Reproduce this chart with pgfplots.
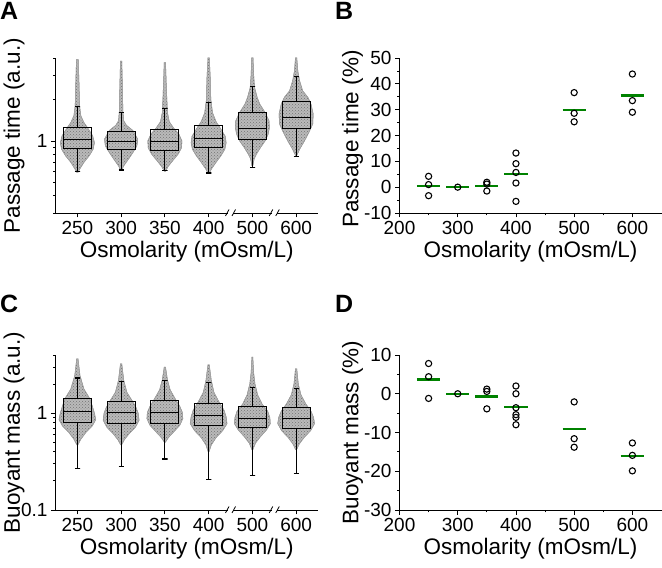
\documentclass[border=0pt]{standalone}
\usepackage{fontspec}
\setmainfont{Liberation Sans}
\usepackage{pgfplots}
\pgfplotsset{compat=1.18}
\usetikzlibrary{patterns,calc}
\definecolor{mgreen}{RGB}{0,130,0}

\pgfplotsset{
  base/.style={
    scale only axis, axis lines*=left, tick align=outside,
    xtick pos=left, ytick pos=left,
    axis line style={line width=0.8pt, black},
    every tick/.style={black, line width=0.8pt},
    major tick length=4.5pt, minor tick length=2.5pt,
    tick label style={font=\fontsize{19}{22}\selectfont},
    label style={font=\fontsize{22.5}{26}\selectfont},
    /pgf/number format/assume math mode=true,
    xlabel={Osmolarity (mOsm/L)},
    clip=false,
  },
  swarmpanel/.style={
    base, width=262.5pt, height=155pt,
    xmin=-0.5, xmax=5.5, xtick={0,...,5},
    xticklabels={250,300,350,400,500,600},
    ylabel style={at={(axis description cs:-0.158,0.5)}, anchor=center},
  },
  dotpanel/.style={
    base, width=262pt, height=155pt,
    xmin=200, xmax=650, xtick={200,300,...,600}, minor x tick num=1,
    minor y tick num=1,
  },
  swarm/.style={fill=black!27, draw=black!38, line width=0.5pt,
    postaction={pattern=crosshatch dots, pattern color=black!55}},
  bx/.style={black, line width=1pt, line cap=rect, mark=none},
  wk/.style={black, line width=1.2pt, mark=none},
  mn/.style={mgreen, line width=2.2pt, mark=none, unbounded coords=jump},
  pts/.style={only marks, mark=o, mark size=3.1pt, mark options={black, line width=1.1pt}},
}

% "//" break mark on a bottom axis line, fraction #2 along axis #1
\newcommand{\axisbreak}[2]{%
  \coordinate (brk) at ($(#1.south west)!#2!(#1.south east)$);
  \fill[white] ($(brk)+(-2.5pt,-1.5pt)$) rectangle ($(brk)+(2.5pt,1.5pt)$);
  \draw[black, line width=0.8pt] ($(brk)+(-5pt,-3pt)$) -- ($(brk)+(-1.5pt,3.5pt)$);
  \draw[black, line width=0.8pt] ($(brk)+(1.5pt,-3pt)$) -- ($(brk)+(5pt,3.5pt)$);
}

\begin{document}
\begin{tikzpicture}
\path (0pt,0pt) rectangle (662pt,568pt);

%------------- Panel A -------------
\begin{axis}[ymode=log, swarmpanel, name=pA, at={(55.5pt,355pt)}, anchor=south west,
  ymin=0.3, ymax=4, ytick={1}, yticklabels={1},
  minor ytick={0.3,0.4,0.5,0.6,0.7,0.8,0.9,2,3,4},
  ylabel={Passage time (a.u.)}]
\addplot[swarm] coordinates {(0.01,0.59) (0.06,0.63) (0.15,0.70) (0.27,0.78) (0.36,0.87) (0.39,0.97) (0.35,1.09) (0.23,1.25) (0.15,1.36) (0.08,1.52) (0.05,1.8) (0.04,2.5) (0.02,3.9)
  (-0.02,3.9) (-0.04,2.5) (-0.05,1.8) (-0.08,1.52) (-0.15,1.36) (-0.23,1.25) (-0.35,1.09) (-0.39,0.97) (-0.36,0.87) (-0.27,0.78) (-0.15,0.70) (-0.06,0.63) (-0.01,0.59)};
\addplot[swarm] coordinates {(1.01,0.61) (1.06,0.66) (1.17,0.74) (1.27,0.825) (1.36,0.92) (1.38,1.03) (1.27,1.19) (1.12,1.3) (1.06,1.4) (1.04,1.65) (1.03,2.5) (1.015,3.8)
  (0.985,3.8) (0.97,2.5) (0.96,1.65) (0.94,1.4) (0.88,1.3) (0.73,1.19) (0.62,1.03) (0.64,0.92) (0.73,0.825) (0.83,0.74) (0.94,0.66) (0.99,0.61)};
\addplot[swarm] coordinates {(2.01,0.60) (2.07,0.65) (2.18,0.72) (2.30,0.80) (2.38,0.89) (2.39,1.0) (2.32,1.12) (2.20,1.24) (2.10,1.38) (2.06,1.6) (2.04,2.2) (2.015,3.7)
  (1.985,3.7) (1.96,2.2) (1.94,1.6) (1.90,1.38) (1.80,1.24) (1.68,1.12) (1.61,1.0) (1.62,0.89) (1.70,0.80) (1.82,0.72) (1.93,0.65) (1.99,0.60)};
\addplot[swarm] coordinates {(3.01,0.58) (3.07,0.63) (3.17,0.70) (3.28,0.78) (3.37,0.87) (3.40,0.97) (3.38,1.08) (3.28,1.22) (3.17,1.38) (3.09,1.6) (3.05,2.0) (3.04,2.8) (3.015,4.0)
  (2.985,4.0) (2.96,2.8) (2.95,2.0) (2.91,1.6) (2.83,1.38) (2.72,1.22) (2.62,1.08) (2.60,0.97) (2.63,0.87) (2.72,0.78) (2.83,0.70) (2.93,0.63) (2.99,0.58)};
\addplot[swarm] coordinates {(4.01,0.66) (4.04,0.74) (4.09,0.80) (4.19,0.90) (4.29,1.0) (4.36,1.12) (4.39,1.25) (4.38,1.40) (4.29,1.61) (4.17,1.85) (4.11,2.07) (4.05,2.44) (4.03,3.0) (4.015,4.0)
  (3.985,4.0) (3.97,3.0) (3.95,2.44) (3.89,2.07) (3.83,1.85) (3.71,1.61) (3.62,1.40) (3.61,1.25) (3.64,1.12) (3.71,1.0) (3.81,0.90) (3.91,0.80) (3.96,0.74) (3.99,0.66)};
\addplot[swarm] coordinates {(5.01,0.78) (5.08,0.87) (5.19,1.0) (5.29,1.15) (5.38,1.33) (5.39,1.57) (5.34,1.85) (5.27,2.07) (5.15,2.31) (5.08,2.73) (5.04,3.2) (5.015,4.0)
  (4.985,4.0) (4.96,3.2) (4.92,2.73) (4.85,2.31) (4.73,2.07) (4.66,1.85) (4.61,1.57) (4.62,1.33) (4.71,1.15) (4.81,1.0) (4.92,0.87) (4.99,0.78)};
% upper whisker + cap, lower whisker + cap, box + median
\addplot[wk] coordinates {(-0.06,1.79) (0.06,1.79) (0,1.79) (0,1.255)};
\addplot[wk] coordinates {(-0.06,0.60) (0.06,0.60) (0,0.60) (0,0.885)};
\addplot[bx] coordinates {(-0.32,1.03) (-0.32,0.885) (0.32,0.885) (0.32,1.255) (-0.32,1.255) (-0.32,1.03) (0.32,1.03)};
\addplot[wk] coordinates {(0.94,1.61) (1.06,1.61) (1,1.61) (1,1.165)};
\addplot[wk] coordinates {(0.94,0.615) (1.06,0.615) (1,0.615) (1,0.87)};
\addplot[bx] coordinates {(0.68,0.99) (0.68,0.87) (1.32,0.87) (1.32,1.165) (0.68,1.165) (0.68,0.99) (1.32,0.99)};
\addplot[wk] coordinates {(1.94,1.72) (2.06,1.72) (2,1.72) (2,1.205)};
\addplot[wk] coordinates {(1.94,0.61) (2.06,0.61) (2,0.61) (2,0.855)};
\addplot[bx] coordinates {(1.68,0.985) (1.68,0.855) (2.32,0.855) (2.32,1.205) (1.68,1.205) (1.68,0.985) (2.32,0.985)};
\addplot[wk] coordinates {(2.94,1.91) (3.06,1.91) (3,1.91) (3,1.30)};
\addplot[wk] coordinates {(2.94,0.585) (3.06,0.585) (3,0.585) (3,0.90)};
\addplot[bx] coordinates {(2.68,1.05) (2.68,0.90) (3.32,0.90) (3.32,1.30) (2.68,1.30) (2.68,1.05) (3.32,1.05)};
\addplot[wk] coordinates {(3.94,2.48) (4.06,2.48) (4,2.48) (4,1.62)};
\addplot[wk] coordinates {(3.94,0.64) (4.06,0.64) (4,0.64) (4,1.02)};
\addplot[bx] coordinates {(3.68,1.24) (3.68,1.02) (4.32,1.02) (4.32,1.62) (3.68,1.62) (3.68,1.24) (4.32,1.24)};
\addplot[wk] coordinates {(4.94,2.93) (5.06,2.93) (5,2.93) (5,1.92)};
\addplot[wk] coordinates {(4.94,0.775) (5.06,0.775) (5,0.775) (5,1.235)};
\addplot[bx] coordinates {(4.68,1.485) (4.68,1.235) (5.32,1.235) (5.32,1.92) (4.68,1.92) (4.68,1.485) (5.32,1.485)};
\end{axis}
\axisbreak{pA}{0.66667}
\axisbreak{pA}{0.83333}

%------------- Panel B -------------
\begin{axis}[dotpanel, at={(399.5pt,355pt)}, anchor=south west,
  ymin=-10, ymax=50, ytick={-10,0,...,50},
  ylabel={Passage time (\%)},
  ylabel style={at={(axis description cs:-0.179,0.477)}, anchor=center}]
\addplot[mn] coordinates {
  (230,0.6) (270,0.6) (nan,nan) (280,0) (320,0) (nan,nan)
  (330,0.5) (370,0.5) (nan,nan) (380,5.0) (420,5.0) (nan,nan)
  (480,30.0) (520,30.0) (nan,nan) (580,35.5) (620,35.5)};
\addplot[pts] coordinates {
  (250,4.2) (250,1.0) (250,-3.3) (300,0)
  (350,1.9) (350,1.2) (350,-1.5)
  (400,13.2) (400,9.1) (400,5.7) (400,1.6) (400,-5.5)
  (500,36.6) (500,28.6) (500,25.3)
  (600,43.8) (600,33.5) (600,29.0)};
\end{axis}

%------------- Panel C -------------
\begin{axis}[ymode=log, swarmpanel, name=pC, at={(55.5pt,58pt)}, anchor=south west,
  ymin=0.1, ymax=4, ytick={0.1,1}, yticklabels={0.1,1},
  minor ytick={0.2,0.3,0.4,0.5,0.6,0.7,0.8,0.9,2,3,4},
  ylabel={Buoyant mass (a.u.)}]
\addplot[swarm] coordinates {(0.01,0.47) (0.08,0.54) (0.19,0.63) (0.34,0.74) (0.42,0.86) (0.39,1.0) (0.35,1.15) (0.29,1.40) (0.15,1.78) (0.06,2.45) (0.015,3.65)
  (-0.015,3.65) (-0.06,2.45) (-0.15,1.78) (-0.29,1.40) (-0.35,1.15) (-0.39,1.0) (-0.42,0.86) (-0.34,0.74) (-0.19,0.63) (-0.08,0.54) (-0.01,0.47)};
\addplot[swarm] coordinates {(1.01,0.47) (1.07,0.53) (1.19,0.62) (1.33,0.72) (1.41,0.85) (1.39,1.0) (1.34,1.15) (1.25,1.35) (1.13,1.65) (1.06,2.2) (1.015,3.24)
  (0.985,3.24) (0.94,2.2) (0.87,1.65) (0.75,1.35) (0.66,1.15) (0.61,1.0) (0.59,0.85) (0.67,0.72) (0.81,0.62) (0.93,0.53) (0.99,0.47)};
\addplot[swarm] coordinates {(2.01,0.50) (2.08,0.56) (2.20,0.64) (2.34,0.75) (2.41,0.88) (2.40,1.02) (2.34,1.18) (2.24,1.40) (2.12,1.75) (2.06,2.2) (2.015,2.99)
  (1.985,2.99) (1.94,2.2) (1.88,1.75) (1.76,1.40) (1.66,1.18) (1.60,1.02) (1.59,0.88) (1.66,0.75) (1.80,0.64) (1.92,0.56) (1.99,0.50)};
\addplot[swarm] coordinates {(3.01,0.40) (3.06,0.47) (3.17,0.56) (3.32,0.66) (3.42,0.78) (3.40,0.92) (3.35,1.08) (3.24,1.30) (3.12,1.65) (3.06,2.2) (3.015,3.16)
  (2.985,3.16) (2.94,2.2) (2.88,1.65) (2.76,1.30) (2.65,1.08) (2.60,0.92) (2.58,0.78) (2.68,0.66) (2.83,0.56) (2.94,0.47) (2.99,0.40)};
\addplot[swarm] coordinates {(4.01,0.42) (4.07,0.49) (4.18,0.57) (4.32,0.67) (4.41,0.78) (4.40,0.90) (4.35,1.05) (4.22,1.25) (4.12,1.55) (4.06,2.0) (4.03,2.6) (4.01,3.8)
  (3.99,3.8) (3.97,2.6) (3.94,2.0) (3.88,1.55) (3.78,1.25) (3.65,1.05) (3.60,0.90) (3.59,0.78) (3.68,0.67) (3.82,0.57) (3.93,0.49) (3.99,0.42)};
\addplot[swarm] coordinates {(5.01,0.42) (5.07,0.48) (5.18,0.56) (5.33,0.66) (5.42,0.78) (5.40,0.90) (5.34,1.05) (5.22,1.25) (5.11,1.55) (5.05,2.0) (5.015,2.87)
  (4.985,2.87) (4.95,2.0) (4.89,1.55) (4.78,1.25) (4.66,1.05) (4.60,0.90) (4.58,0.78) (4.67,0.66) (4.82,0.56) (4.93,0.48) (4.99,0.42)};
\addplot[wk] coordinates {(-0.06,2.31) (0.06,2.31) (0,2.31) (0,1.42)};
\addplot[wk] coordinates {(-0.06,0.27) (0.06,0.27) (0,0.27) (0,0.81)};
\addplot[bx] coordinates {(-0.32,1.04) (-0.32,0.81) (0.32,0.81) (0.32,1.42) (-0.32,1.42) (-0.32,1.04) (0.32,1.04)};
\addplot[wk] coordinates {(0.94,2.12) (1.06,2.12) (1,2.12) (1,1.32)};
\addplot[wk] coordinates {(0.94,0.283) (1.06,0.283) (1,0.283) (1,0.79)};
\addplot[bx] coordinates {(0.68,1.01) (0.68,0.79) (1.32,0.79) (1.32,1.32) (0.68,1.32) (0.68,1.01) (1.32,1.01)};
\addplot[wk] coordinates {(1.94,2.17) (2.06,2.17) (2,2.17) (2,1.35)};
\addplot[wk] coordinates {(1.94,0.337) (2.06,0.337) (2,0.337) (2,0.78)};
\addplot[bx] coordinates {(1.68,1.02) (1.68,0.78) (2.32,0.78) (2.32,1.35) (1.68,1.35) (1.68,1.02) (2.32,1.02)};
\addplot[wk] coordinates {(2.94,2.09) (3.06,2.09) (3,2.09) (3,1.27)};
\addplot[wk] coordinates {(2.94,0.205) (3.06,0.205) (3,0.205) (3,0.74)};
\addplot[bx] coordinates {(2.68,0.946) (2.68,0.74) (3.32,0.74) (3.32,1.27) (2.68,1.27) (2.68,0.946) (3.32,0.946)};
\addplot[wk] coordinates {(3.94,1.85) (4.06,1.85) (4,1.85) (4,1.17)};
\addplot[wk] coordinates {(3.94,0.226) (4.06,0.226) (4,0.226) (4,0.72)};
\addplot[bx] coordinates {(3.68,0.887) (3.68,0.72) (4.32,0.72) (4.32,1.17) (3.68,1.17) (3.68,0.887) (4.32,0.887)};
\addplot[wk] coordinates {(4.94,1.81) (5.06,1.81) (5,1.81) (5,1.146)};
\addplot[wk] coordinates {(4.94,0.237) (5.06,0.237) (5,0.237) (5,0.69)};
\addplot[bx] coordinates {(4.68,0.88) (4.68,0.69) (5.32,0.69) (5.32,1.146) (4.68,1.146) (4.68,0.88) (5.32,0.88)};
\end{axis}
\axisbreak{pC}{0.66667}
\axisbreak{pC}{0.83333}

%------------- Panel D -------------
\begin{axis}[dotpanel, at={(399.5pt,58pt)}, anchor=south west,
  ymin=-30, ymax=10, ytick={-30,-20,...,10},
  ylabel={Buoyant mass (\%)},
  ylabel style={at={(axis description cs:-0.179,0.5)}, anchor=center}]
\addplot[mn] coordinates {
  (230,3.7) (270,3.7) (nan,nan) (280,0) (320,0) (nan,nan)
  (330,-0.7) (370,-0.7) (nan,nan) (380,-3.5) (420,-3.5) (nan,nan)
  (480,-9.2) (520,-9.2) (nan,nan) (580,-16.1) (620,-16.1)};
\addplot[pts] coordinates {
  (250,7.8) (250,4.4) (250,-1.2) (300,0)
  (350,1.2) (350,0.6) (350,-3.9)
  (400,2.0) (400,0) (400,-3.6) (400,-5.4) (400,-6.1) (400,-8.0)
  (500,-2.1) (500,-11.6) (500,-13.8)
  (600,-12.7) (600,-15.9) (600,-19.9)};
\end{axis}

% panel letters
\node[anchor=north west, inner sep=0pt, font=\fontsize{25}{28}\selectfont\bfseries] at (0pt,566pt) {A};
\node[anchor=north west, inner sep=0pt, font=\fontsize{25}{28}\selectfont\bfseries] at (335pt,566pt) {B};
\node[anchor=north west, inner sep=0pt, font=\fontsize{25}{28}\selectfont\bfseries] at (0pt,273pt) {C};
\node[anchor=north west, inner sep=0pt, font=\fontsize{25}{28}\selectfont\bfseries] at (335pt,273pt) {D};
\end{tikzpicture}
\end{document}
